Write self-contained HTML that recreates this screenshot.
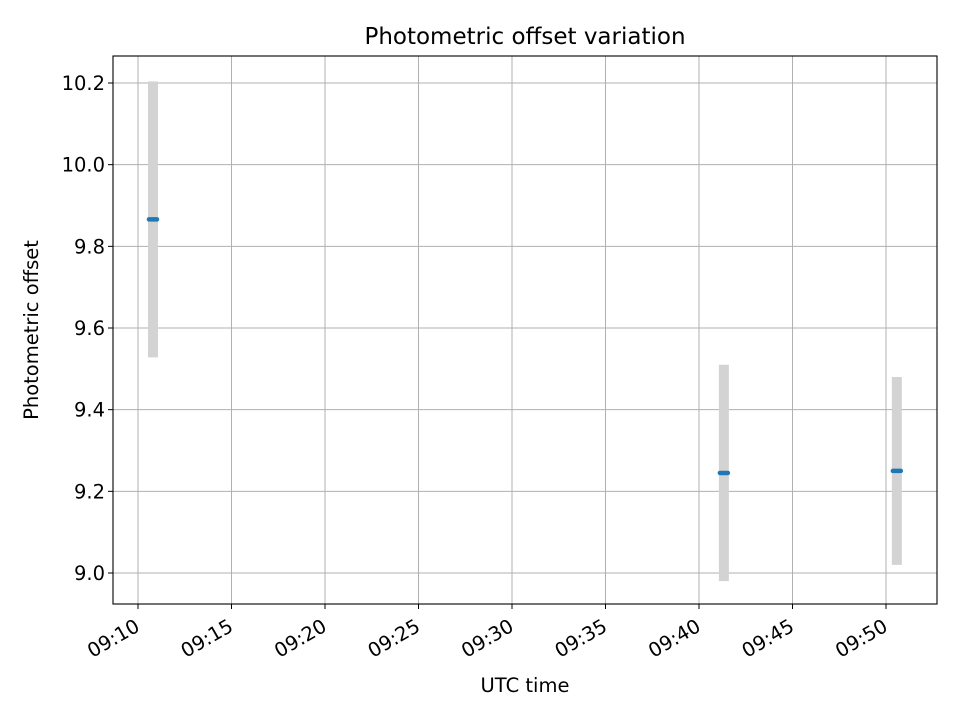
<!DOCTYPE html>
<html><head><meta charset="utf-8"><style>
body{margin:0;background:#fff;}
svg text{font-family:"DejaVu Sans","Liberation Sans",sans-serif;fill:#000;}
</style></head><body>
<svg id="chart" width="960" height="720" xmlns="http://www.w3.org/2000/svg">
<g id="grid"></g>
<g id="marks"></g>
<rect x="113" y="56" width="824" height="548" fill="none" stroke="#000" stroke-width="1.1"/>
<g id="axes"></g>
<text x="525" y="44" style="font-size:23px" text-anchor="middle">Photometric offset variation</text>
<text x="525" y="692" style="font-size:19.5px" text-anchor="middle">UTC time</text>
<text transform="translate(38,330) rotate(-90)" style="font-size:19.5px" text-anchor="middle">Photometric offset</text>
</svg>
<script>
const times=[10.8,41.33,50.58]; // minutes after 09:00
const values=[9.866,9.245,9.25];
const errors=[0.338,0.265,0.23];
const xTicks=[10,15,20,25,30,35,40,45,50];
const xTickLabels=["09:10","09:15","09:20","09:25","09:30","09:35","09:40","09:45","09:50"];
const yTicks=[9.0,9.2,9.4,9.6,9.8,10.0,10.2];
const yTickLabels=["9.0","9.2","9.4","9.6","9.8","10.0","10.2"];

const L=113,R=937,T=56,B=604;
const xMin=10-25/18.7,xMax=50+51/18.7,yMin=9.0-31/408.33,yMax=10.2+27/408.33;
const X=v=>L+(v-xMin)/(xMax-xMin)*(R-L);
const Y=v=>B-(v-yMin)/(yMax-yMin)*(B-T);
const NS="http://www.w3.org/2000/svg";
function mk(tag,attrs,parent){const e=document.createElementNS(NS,tag);for(const k in attrs)e.setAttribute(k,attrs[k]);parent.appendChild(e);return e;}
const grid=document.getElementById('grid'),axes=document.getElementById('axes'),marks=document.getElementById('marks');
xTicks.forEach((t,i)=>{
  const x=X(t);
  const g=mk('line',{x1:x,x2:x,y1:T,y2:B,stroke:'#b0b0b0','stroke-width':1},grid);
  
  
  const tk=mk('line',{x1:x,x2:x,y1:B,y2:B+5,stroke:'#000','stroke-width':1},axes);
  
  
  const lb=mk('text',{transform:`translate(${x+3},${B+26}) rotate(-30)`,style:'font-size:19.5px','text-anchor':'end'},axes);
  lb.textContent=xTickLabels[i];
  
  
});
yTicks.forEach((t,i)=>{
  const y=Y(t);
  const g=mk('line',{x1:L,x2:R,y1:y,y2:y,stroke:'#b0b0b0','stroke-width':1},grid);
  
  
  const tk=mk('line',{x1:L-5,x2:L,y1:y,y2:y,stroke:'#000','stroke-width':1},axes);
  
  
  const lb=mk('text',{x:L-8,y:y+7,style:'font-size:19.5px','text-anchor':'end'},axes);
  lb.textContent=yTickLabels[i];
  
  
});
times.forEach((t,i)=>{
  const x=X(t);
  const eb=mk('line',{x1:x,x2:x,y1:Y(values[i]-errors[i]),y2:Y(values[i]+errors[i]),stroke:'#d3d3d3','stroke-width':10},marks);
  
  
  const p=mk('line',{x1:x-4,x2:x+4,y1:Y(values[i]),y2:Y(values[i]),stroke:'#1f77b4','stroke-width':4.5,'stroke-linecap':'round'},marks);
  
  
});
</script>
</body></html>
